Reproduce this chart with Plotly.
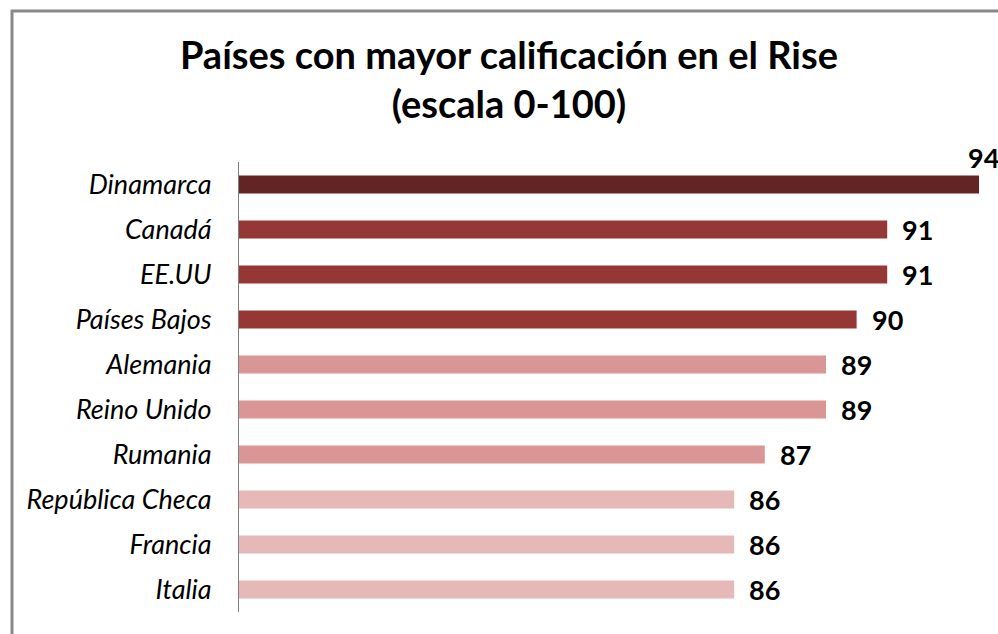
import plotly.graph_objects as go

countries = ["Dinamarca", "Canadá", "EE.UU", "Países Bajos", "Alemania",
             "Reino Unido", "Rumania", "República Checa", "Francia", "Italia"]
scores = [94, 91, 91, 90, 89, 89, 87, 86, 86, 86]
bar_colors = ["#632523", "#953735", "#953735", "#953735", "#D99694",
              "#D99694", "#D99694", "#E6B9B8", "#E6B9B8", "#E6B9B8"]

W, H = 998, 634
L, R, T, B = 239, 0, 162, 22
pw, ph = W - L - R, H - T - B

def px_x(x):
    return (x - L) / pw

def px_y(y):
    return (H - B - y) / ph

fig = go.Figure(go.Bar(
    x=scores, y=countries, orientation="h",
    marker=dict(color=bar_colors, line=dict(width=0)),
    hoverinfo="x+y",
))

annotations = []
for i, (c, v) in enumerate(zip(countries, scores)):
    top = i == 0
    annotations.append(dict(
        x=v, y=c, xref="x", yref="y", text=str(v), showarrow=False,
        xanchor="left", yanchor="middle",
        xshift=-13 if top else 13, yshift=27 if top else 0,
        font=dict(family="Lato", size=27, color="#000000", weight="bold"),
    ))

fig.update_layout(
    width=W, height=H,
    margin=dict(l=L, r=R, t=T, b=B, pad=0),
    paper_bgcolor="white", plot_bgcolor="white",
    bargap=0.6,
    showlegend=False,
    title=dict(
        text="<b>Países con mayor calificación en el Rise<br>(escala 0-100)</b>",
        x=0.51, xanchor="center", xref="container",
        y=1 - 69 / H, yanchor="top", yref="container",
        font=dict(family="Lato", size=38, color="#000000"),
    ),
    xaxis=dict(range=[69.82, 94.62], visible=False, fixedrange=True),
    yaxis=dict(
        autorange="reversed", showline=True, linecolor="#7f7f7f", linewidth=1,
        showgrid=False, zeroline=False, ticks="", ticklabelstandoff=21,
        tickfont=dict(family="Lato", size=27, color="#000000", style="italic"),
    ),
    annotations=annotations,
    shapes=[
        dict(type="line", xref="paper", yref="paper",
             x0=px_x(12), x1=px_x(12), y0=px_y(10), y1=px_y(640),
             line=dict(color="#888888", width=3)),
        dict(type="line", xref="paper", yref="paper",
             x0=px_x(11), x1=px_x(1005), y0=px_y(11), y1=px_y(11),
             line=dict(color="#888888", width=3)),
    ],
)

fig.write_html("out.html", config={"displayModeBar": False},
               post_script="document.body.style.margin='0';")
